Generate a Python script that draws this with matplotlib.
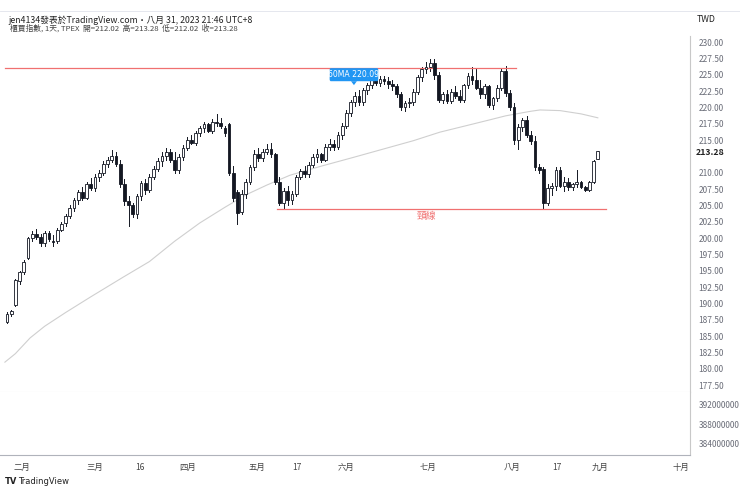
import matplotlib
matplotlib.use("Agg")
import matplotlib.pyplot as plt
from matplotlib.patches import Rectangle, FancyBboxPatch, Polygon

plt.rcParams['font.family'] = ['Noto Sans CJK TC', 'DejaVu Sans']

# o, h, l, c per candle
candles = [
 (187.2,188.6,187,188.4),(188.4,189,188,188.9),(189.8,193.8,189.6,193.6),(193.4,195,193,194.8),
 (194.8,196.6,194.5,196.4),(197,200.2,196.8,200),(200,201,199.5,200.6),(200.6,201.4,199.8,200.1),
 (200.2,200.6,198.8,199.2),(199.2,201,198.8,200.8),(200.8,201,199.5,199.8),(199.6,200.4,198.8,199.4),
 (199.5,201.5,199.2,201.2),(201.2,202.4,201,202.2),(202.3,203.6,201.8,203.4),(203.4,205,203,204.6),
 (204.6,206.2,204.2,205.8),(205.8,207.4,205.2,207),(207,207.8,205.8,206.2),(206.2,208.6,206,208.2),
 (208.2,209.2,207.4,207.6),(207.6,209.8,207.2,209.4),(209.4,210.4,208.8,210),(210,211.8,209.6,211.4),
 (211.4,212.4,210.8,212),(212,213.4,211.6,212.6),(212.6,213.2,211,211.4),(211.4,212,207.8,208.2),
 (208.2,209,205,205.6),(205.6,206.4,201.8,205),(205,205.4,203.2,203.6),(203.6,206.8,203,206.4),
 (206.4,208.8,205.8,208.4),(208.4,209,206.8,207.4),(207.4,209.8,207,209.4),(209.4,211,209,210.6),
 (210.6,212.2,210.2,211.8),(211.8,213.2,211,212.6),(212.6,213.8,212,213.2),(213.2,213.6,211.6,212),
 (212,213.2,210,210.4),(210.4,212.8,210,212.4),(212.4,214.2,212,213.8),(213.8,215.4,213.4,215),
 (215,215.8,214.4,214.6),(214.6,216.4,214.2,216),(216,217.2,215.6,216.8),(216.8,217.8,216.2,217.4),
 (217.4,217.6,216.2,216.4),(216.4,218.2,216,217.8),(217.8,219,217.2,217.6),(217.6,218.4,216.8,217.2),
 (216.8,217.2,215.6,216),(217.4,217.6,209.6,210),(210,211,205.6,206.2),(207,207.4,202.2,203.8),
 (204,207.4,203.6,206.8),(206.8,209,206.2,208.6),(208.6,211.2,208.2,210.8),(210.8,213.4,210.4,212.8),
 (212.8,213.8,211.8,212.2),(212.2,213.6,211.8,213.2),(213.2,214.4,212.8,213.6),(213.6,214.6,212.4,212.8),
 (212.8,213,208.2,208.6),(208.6,209.4,205,205.4),(205.4,207.6,204.4,207.2),(207.2,208,205,205.8),
 (205.8,207.2,205.2,206.8),(206.8,209.6,206.4,209.4),(209.4,210.6,209,210.2),(210.2,211,209.4,209.8),
 (209.8,211.6,209.4,211.2),(211.2,212.8,210.8,212.4),(212.4,213.6,211.6,212.8),(212.8,213,211.6,212),
 (212,214.4,211.8,214),(214,215.2,213.4,214.4),(214.4,215,213.4,214),(214,216.2,213.6,215.8),
 (215.8,217.6,215.2,217.2),(217.2,219.6,216.8,219.2),(219.2,221.2,218.6,220.8),(220.8,222.4,220.2,221.8),
 (221.8,222.6,220.4,220.8),(220.8,223,220.4,222.6),(222.6,223.8,222,223.4),(223.4,224.6,223,224.2),
 (224.2,224.8,223.4,223.8),(223.8,224.8,223.2,224.4),(224.4,224.8,223.6,224),(224,224.6,223,223.6),
 (223.6,224.2,222.6,223.2),(223.2,223.6,221.6,222),(222,222.4,219.6,220),(220,221,219.4,220.6),
 (220.6,221.4,220,220.8),(220.8,222.8,220.4,222.4),(222.4,225,222,224.6),(224.6,226.2,224,225.8),
 (225.8,227,225.2,226.2),(226.2,227.4,225.6,226.8),(226.8,227.4,224.4,225),(225,225.4,220.8,221.2),
 (221.2,222.4,220.6,222),(222,222.6,220.6,221),(221,222.8,220.6,222.4),(222.4,223.2,221.4,221.8),
 (221.8,222.6,220.8,221.2),(221.2,223.6,220.8,223.4),(223.4,225.2,223,224.8),(224.8,226.2,223.6,224.2),
 (224.2,226,222.8,223),(223,224.2,221.4,222),(222,223.6,221.4,223.2),(223.2,223.4,220,220.4),
 (220.4,221.6,219.8,221.4),(221.4,223.4,221,223),(223,226,222.6,225.6),(225.6,226.4,221.8,222.2),
 (222.2,222.6,219.6,220),(220,220.6,214.4,215),(215,217.4,213.6,217),(217,218.4,216.4,218),
 (218,218.6,215.4,215.8),(215.8,216.4,214.4,214.8),(214.8,215.6,210.4,210.8),(210.8,211.4,210,210.4),
 (210.6,210.8,204.4,205.4),(205.4,208.2,205,207.6),(207.6,208.4,206.6,208),(208,210.8,207.4,210.4),
 (210.4,210.8,207.8,208),(208,209.4,207.2,208.6),(208.6,209.2,207.4,207.8),(207.8,208.4,207.4,208.2),
 (208.2,210.4,207.8,208.6),(208.6,208.8,207.6,207.8),(207.8,208,207.2,207.4),(207.4,208.8,207.2,208.6),
 (208.6,212,208.4,211.8),(212.02,213.28,212.02,213.28),
]
ma_idx = [-0.5, 2, 5.5, 9, 14, 20, 27.7, 34, 40, 46, 52, 57, 62, 67.5, 75, 83, 91.4, 97, 103.3, 109, 115.3, 119, 122.4, 125, 127.2, 132, 137, 141]
ma_val = [181.0, 182.3, 184.7, 186.5, 188.6, 191.0, 194.0, 196.4, 199.5, 202.3, 204.7, 206.6, 208.1, 209.6, 211.0, 212.4, 213.9, 214.9, 216.2, 217.1, 218.1, 218.7, 219.1, 219.4, 219.6, 219.5, 219.0, 218.4]
top_line = (-0.5, 121.5, 226.0)
neck_line = (64.5, 143.0, 204.4)
price_ticks = [177.5,180,182.5,185,187.5,190,192.5,195,197.5,200,202.5,205,207.5,210,212.5,215,217.5,220,222.5,225,227.5,230]
vol_ticks = [384000000, 388000000, 392000000]
x_pos = [3.58, 21, 31.7, 43.2, 59.7, 69.2, 80.9, 100.5, 120.5, 131.3, 141.5, 160.9]
x_lab = ['二月','三月','16','四月','五月','17','六月','七月','八月','17','九月','十月']

W, H = 740, 491
fig = plt.figure(figsize=(7.4, 4.91), dpi=100)
def rect(l, t, r, b):
    return [l/W, 1-b/H, (r-l)/W, (b-t)/H]
ax = fig.add_axes(rect(0, 36, 690, 392))
axv = fig.add_axes(rect(0, 392, 690, 455), sharex=ax)
ax.set_xlim(-1.67, 163.0)
ax.set_ylim(176.43, 230.92)
axv.set_ylim(381.7e6, 394.67e6)

dark = '#131722'
for i, (o, h, l, c) in enumerate(candles):
    up = c >= o
    ax.plot([i, i], [l, h], color=dark, lw=0.7, zorder=2)
    lo, hi = min(o, c), max(o, c)
    ax.add_patch(Rectangle((i-0.33, lo), 0.66, max(hi-lo, 0.12),
                           facecolor='white' if up else dark, edgecolor=dark, lw=0.6, zorder=3))
ax.plot(ma_idx, ma_val, color='#cfcfcf', lw=0.8, zorder=1)
ax.plot(top_line[:2], [top_line[2]]*2, color='#f07070', lw=0.9)
ax.plot(neck_line[:2], [neck_line[2]]*2, color='#f07070', lw=0.9)
ax.text(100, 203.3, '頸線', color='#f07070', fontsize=7, ha='center', va='center')

# 60MA label
bx, by = 82.8, 225.0
ax.add_patch(FancyBboxPatch((bx-5.8, by-1.0), 11.6, 2.0, boxstyle='round,pad=0,rounding_size=0.3',
                            facecolor='#2196f3', edgecolor='none', zorder=5))
ax.add_patch(Polygon([[bx-0.7, by-1.0], [bx+0.7, by-1.0], [bx, by-1.6]], facecolor='#2196f3', edgecolor='none', zorder=5))
ax.text(bx, by, '60MA 220.09', color='white', fontsize=5.6, ha='center', va='center', zorder=6, family=['DejaVu Sans'])

for a in (ax, axv):
    for s in ['top', 'left']:
        a.spines[s].set_visible(False)
    a.spines['right'].set_color('#c8c8c8')
    a.spines['bottom'].set_color('#e0e3eb')
    a.yaxis.tick_right()
    a.tick_params(axis='y', length=0, pad=6, labelsize=6, labelcolor='#6a6d78')
ax.set_yticks(price_ticks)
ax.set_yticklabels([f'{v:.2f}' if v != 212.5 else '' for v in price_ticks])
axv.set_yticks(vol_ticks)
axv.set_yticklabels([str(v) for v in vol_ticks])
ax.tick_params(axis='x', bottom=False, labelbottom=False)
axv.spines['bottom'].set_color('#b0b3bb')
axv.set_xticks(x_pos)
axv.set_xticklabels(x_lab)
axv.tick_params(axis='x', length=0, pad=6, labelsize=6, labelcolor='#444')
ax.text(1.008, (213.16-176.43)/(230.92-176.43), '213.28', transform=ax.transAxes, fontsize=6.3,
        fontweight='bold', color='#222', va='center', ha='left')

fig.text(8/W, 1-20/H, 'jen4134發表於TradingView.com・八月 31, 2023 21:46 UTC+8', fontsize=6.3, color='#222', va='center')
fig.text(10/W, 1-28/H, '櫃買指數, 1天, TPEX  開=212.02  高=213.28  低=212.02  收=213.28', fontsize=5.6, color='#444', va='center')
fig.text(697/W, 1-20/H, 'TWD', fontsize=6.3, color='#222', va='center')
fig.lines.append(plt.Line2D([0, 1], [1-11/H, 1-11/H], transform=fig.transFigure, color='#e0e3eb', lw=0.6))
fig.text(5/W, 1-481/H, 'TV', fontsize=6, color='#222', va='center', fontweight='bold', family=['DejaVu Sans'])
fig.text(18/W, 1-481/H, 'TradingView', fontsize=6, color='#222', va='center', family=['DejaVu Sans'])
fig.savefig('out.png', dpi=100, facecolor='white')
